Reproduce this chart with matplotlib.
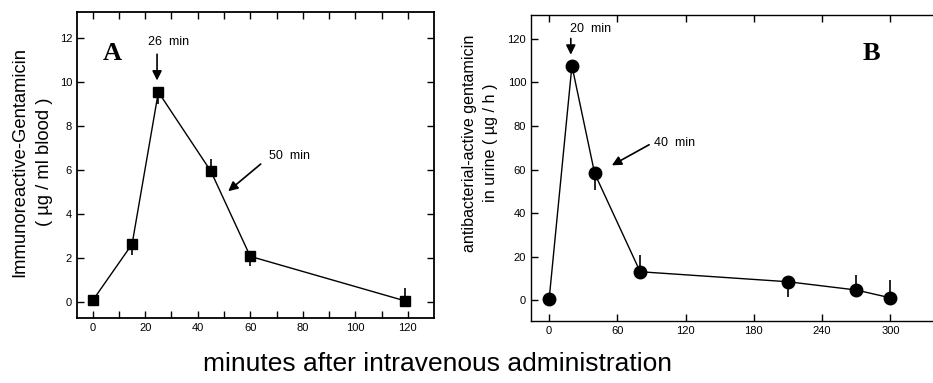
import matplotlib
matplotlib.use("Agg")
import matplotlib.pyplot as plt

plt.rcParams['font.family'] = ['Liberation Sans', 'DejaVu Sans']

# panel A: blood
time_a = [0, 15, 25, 45, 60, 119]
conc_a = [0.05, 2.62, 9.55, 5.94, 2.06, 0.03]
err_a_lo = [0, 0.5, 0.55, 0, 0.45, 0]
err_a_hi = [0, 0, 0, 0.55, 0, 0.6]

# panel B: urine
time_b = [0, 20, 40, 80, 210, 270, 300]
rate_b = [0.5, 107.7, 58.2, 13.0, 8.4, 4.6, 1.0]
err_b_lo = [0, 0, 7.5, 0, 6.9, 0, 0]
err_b_hi = [0, 0, 0, 7.7, 0, 7.0, 8.2]

fig = plt.figure(figsize=(9.33, 3.83), dpi=100)
axA = fig.add_axes([0.0825, 0.1697, 0.3827, 0.799])
axB = fig.add_axes([0.5691, 0.1627, 0.434, 0.798])

tickfs = 8
annfs = 9
arrow = dict(arrowstyle='-|>', color='black', lw=1.2, mutation_scale=14)

# ---- A
axA.errorbar(time_a, conc_a, yerr=[err_a_lo, err_a_hi], fmt='none', ecolor='black',
             elinewidth=1.2, capsize=0, zorder=1)
axA.plot(time_a, conc_a, color='black', lw=1.0, marker='s', ms=7, mfc='black', zorder=2)
axA.set_xlim(-6, 130)
axA.set_ylim(-0.75, 13.2)
axA.set_xticks(range(0, 121, 20))
axA.set_xticks(range(10, 130, 20), minor=True)
axA.set_yticks(range(0, 13, 2))
axA.tick_params(which='both', direction='in', top=True, right=True, labelsize=tickfs,
                length=5, width=1.0)
for s in axA.spines.values():
    s.set_linewidth(1.3)
axA.text(7.5, 11.3, "A", fontsize=19, fontweight='bold', family='Liberation Serif',
         ha='center', va='center')
axA.annotate("", xy=(24.5, 9.95), xytext=(24.5, 11.4), arrowprops=arrow)
axA.text(29, 11.85, "26  min", fontsize=annfs, ha='center', va='center')
axA.annotate("", xy=(50.8, 4.95), xytext=(64.8, 6.35), arrowprops=arrow)
axA.text(67.3, 6.62, "50  min", fontsize=annfs, ha='left', va='center')

# ---- B
axB.errorbar(time_b, rate_b, yerr=[err_b_lo, err_b_hi], fmt='none', ecolor='black',
             elinewidth=1.2, capsize=0, zorder=1)
axB.plot(time_b, rate_b, color='black', lw=1.0, marker='o', ms=9, mfc='black', zorder=2)
axB.set_xlim(-16, 340)
axB.set_ylim(-9.5, 131)
axB.set_xticks(range(0, 301, 60))
axB.set_yticks(range(0, 121, 20))
axB.tick_params(which='both', direction='in', top=True, right=False, labelsize=tickfs,
                length=5, width=1.0)
for s in axB.spines.values():
    s.set_linewidth(1.0)
axB.text(283, 113.4, "B", fontsize=19, fontweight='bold', family='Liberation Serif',
         ha='center', va='center')
axB.annotate("", xy=(19, 111.5), xytext=(19, 121.5), arrowprops=arrow)
axB.text(36, 124.5, "20  min", fontsize=annfs, ha='center', va='center')
axB.annotate("", xy=(53, 61.3), xytext=(90, 72), arrowprops=arrow)
axB.text(92, 72.4, "40  min", fontsize=annfs, ha='left', va='center')

# y labels as figure text so the two lines sit where they do in the original
fig.text(0.0343, 0.577, "Immunoreactive-Gentamicin\n( µg / ml blood )", fontsize=13.2,
         rotation=90, ha='center', va='center', linespacing=1.55, multialignment='center')
fig.text(0.515, 0.627, "antibacterial-active gentamicin\nin urine ( µg / h )", fontsize=11.6,
         rotation=90, ha='center', va='center', linespacing=1.5, multialignment='center')

fig.text(0.469, 0.05, "minutes after intravenous administration", fontsize=19,
         ha='center', va='center')

fig.savefig("out.png", dpi=100)
